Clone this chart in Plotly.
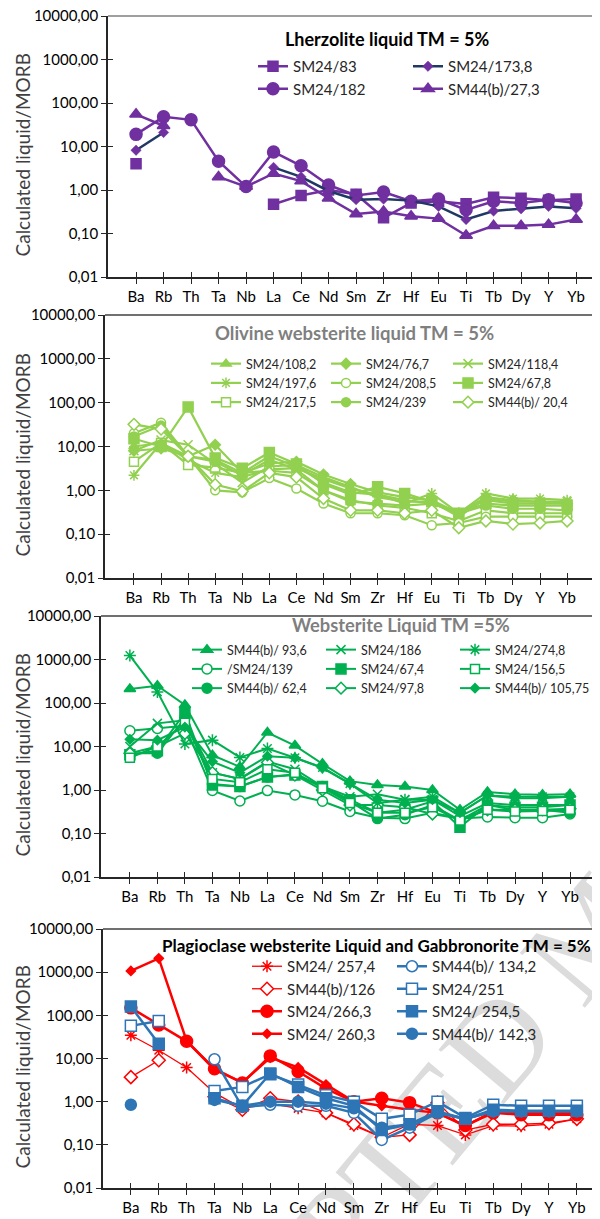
import plotly.graph_objects as go

# ---------------- DATA ----------------
elements = ["Ba", "Rb", "Th", "Ta", "Nb", "La", "Ce", "Nd", "Sm", "Zr", "Hf", "Eu", "Ti", "Tb", "Dy", "Y", "Yb"]
y_tick_vals = [0.01, 0.1, 1, 10, 100, 1000, 10000]
y_tick_text = ["0,01", "0,10", "1,00", "10,00", "100,00", "1000,00", "10000,00"]
y_title = "Calculated liquid/MORB"
watermark = "ACCEPTED MANUSCRIPT"

# Panel 1 - Lherzolite liquid
lherz_title = "Lherzolite liquid TM = 5%"
lherz_sm24_83 = [4.0, None, None, None, None, 0.47, 0.75, 1.0, 0.8, 0.23, 0.5, 0.55, 0.48, 0.68, 0.65, 0.58, 0.62]
lherz_sm24_173_8 = [8.2, 21, None, None, None, 3.3, 2.0, 0.95, 0.6, 0.62, 0.57, 0.42, 0.21, 0.33, 0.37, 0.42, 0.38]
lherz_sm24_182 = [19, 48, 41, 4.6, 1.2, 7.5, 3.6, 1.3, 0.75, 0.9, 0.55, 0.62, 0.35, 0.55, 0.5, 0.6, 0.5]
lherz_sm44b_27_3 = [55, 30, None, 2.0, 1.2, 2.4, 1.6, 0.65, 0.28, 0.32, 0.25, 0.22, 0.09, 0.15, 0.15, 0.16, 0.21]

# Panel 2 - Olivine websterite liquid
ol_title = "Olivine websterite liquid TM = 5%"
ol_sm24_108_2 = [10, 12, 6, 5, 2.5, 6, 3.5, 1.5, 0.9, 0.8, 0.6, 0.5, 0.3, 0.6, 0.5, 0.5, 0.5]
ol_sm24_76_7 = [8, 9, 6, 11, 2.5, 4.1, 4.5, 2.3, 1.4, 0.9, 0.7, 0.6, 0.3, 0.7, 0.6, 0.55, 0.5]
ol_sm24_118_4 = [8, 14, 11, 4, 1.5, 3.5, 3.8, 2.0, 1.2, 0.7, 0.55, 0.55, 0.25, 0.65, 0.55, 0.55, 0.55]
ol_sm24_197_6 = [2.2, 12, 5, 2.5, 2.0, 3.0, 3.2, 1.8, 1.1, 0.8, 0.5, 0.85, 0.3, 0.85, 0.65, 0.65, 0.6]
ol_sm24_208_5 = [20, 35, 6, 1.0, 0.9, 1.9, 1.1, 0.5, 0.3, 0.3, 0.27, 0.16, 0.18, 0.25, 0.25, 0.25, 0.25]
ol_sm24_67_8 = [15, 10, 80, 5.5, 3.2, 7.3, 4.0, 1.4, 0.8, 1.2, 0.85, 0.55, 0.3, 0.5, 0.45, 0.45, 0.45]
ol_sm24_217_5 = [4.5, 12, 3.8, 3.3, 2.5, 2.8, 2.5, 1.0, 0.6, 0.45, 0.4, 0.3, 0.2, 0.35, 0.3, 0.3, 0.3]
ol_sm24_239 = [17, 30, 6, 4.5, 2.2, 5.0, 3.0, 1.0, 0.55, 0.5, 0.45, 0.5, 0.3, 0.45, 0.38, 0.38, 0.35]
ol_sm44b_20_4 = [32, 25, 6, 1.35, 0.95, 2.5, 2.0, 0.65, 0.35, 0.35, 0.3, 0.35, 0.14, 0.2, 0.17, 0.18, 0.2]

# Panel 3 - Websterite liquid
web_title = "Websterite Liquid TM =5%"
web_sm44b_93_6 = [210, 250, 90, 6.3, 3.4, 21, 10.5, 4.0, 1.6, 1.3, 1.2, 1.0, 0.35, 0.9, 0.8, 0.78, 0.8]
web_sm24_186 = [10, 34, 40, 2.5, 1.8, 4.5, 3.0, 1.2, 0.7, 0.8, 0.6, 0.6, 0.25, 0.5, 0.45, 0.45, 0.45]
web_sm24_274_8 = [1230, 180, 11.4, 14, 5.6, 9, 5.5, 3.3, 1.4, 0.5, 0.6, 0.7, 0.3, 0.75, 0.7, 0.7, 0.7]
web_sm24_139 = [23, 26, 30, 0.98, 0.56, 0.97, 0.77, 0.55, 0.32, 0.23, 0.22, 0.3, 0.22, 0.24, 0.23, 0.23, 0.28]
web_sm24_67_4 = [6.5, 8, 60, 1.3, 1.2, 2.0, 2.2, 1.2, 0.6, 0.3, 0.35, 0.55, 0.14, 0.45, 0.4, 0.4, 0.45]
web_sm24_156_5 = [5.5, 10, 35, 1.8, 1.5, 3.0, 2.5, 1.1, 0.5, 0.3, 0.3, 0.4, 0.2, 0.35, 0.32, 0.33, 0.35]
web_sm44b_62_4 = [7, 7, 45, 1.37, 1.2, 2.0, 2.3, 1.2, 0.55, 0.22, 0.27, 0.45, 0.2, 0.45, 0.35, 0.35, 0.3]
web_sm24_97_8 = [7, 10, 20, 2.5, 1.8, 4.3, 2.2, 1.0, 0.45, 0.45, 0.4, 0.28, 0.22, 0.35, 0.35, 0.35, 0.37]
web_sm44b_105_75 = [14.6, 14, 28, 4.5, 2.5, 6.0, 5.5, 3.2, 1.4, 0.6, 0.5, 0.6, 0.3, 0.75, 0.65, 0.65, 0.7]

# Panel 4 - Plagioclase websterite liquid and Gabbronorite
pl_title = "Plagioclase websterite Liquid and Gabbronorite TM = 5%"
pl_sm24_257_4 = [34.6, 15.5, 6.2, 1.6, 0.7, 0.9, 0.7, 0.55, 0.28, 0.15, 0.3, 0.28, 0.17, 0.28, 0.27, 0.3, 0.4]
pl_sm44b_126 = [3.7, 9.1, None, 1.3, 0.65, 1.2, 1.0, 0.55, 0.3, 0.15, 0.17, 0.95, 0.22, 0.3, 0.3, 0.32, 0.4]
pl_sm24_266_3 = [149, 60, 25, 5.8, 2.7, 11.5, 5.0, 2.0, 1.0, 1.2, 0.95, 0.55, 0.28, 0.55, 0.5, 0.5, 0.5]
pl_sm24_260_3 = [1070, 2090, 25.6, 5.5, 2.8, 10.5, 6.2, 2.5, 1.0, 0.8, 0.65, 0.55, 0.27, 0.6, 0.55, 0.55, 0.55]
pl_sm44b_134_2 = [None, None, None, 9.6, 0.75, 0.85, 0.8, 0.8, 0.55, 0.13, 0.25, 0.55, 0.4, 0.6, 0.6, 0.6, 0.6]
pl_sm24_251 = [57, 74, None, 1.77, 2.2, 4.3, 2.5, 1.4, 1.0, 0.4, 0.5, 1.0, 0.42, 0.85, 0.8, 0.8, 0.8]
pl_sm24_254_5 = [160, 22, None, 1.2, 0.8, 4.5, 2.2, 1.2, 0.8, 0.22, 0.3, 0.6, 0.4, 0.65, 0.62, 0.62, 0.62]
pl_sm44b_142_3 = [0.85, None, None, 1.1, 0.8, 1.0, 1.0, 0.9, 0.7, 0.25, 0.3, 0.55, 0.4, 0.6, 0.6, 0.6, 0.6]

# ---------------- STYLE / LAYOUT ----------------
W, H = 600, 1219
PAGE_OFF = 8  # the page body margin shifts the figure by this many pixels
FONT = "Lato, Carlito, 'Open Sans', sans-serif"
PURPLE = "#7030A0"
NAVY = "#1F3864"
LGREEN = "#92D050"
GREEN = "#00B050"
RED = "#FF0000"
BLUE = "#2E75B6"


def fx(px):
    return (px - PAGE_OFF) / W


def fy(py):
    return 1 - (py - PAGE_OFF) / H


# panel geometry in (page) pixels
panels = [
    dict(top=16, bottom=277, left=108, right=600, xr=[-1.02, 16.87], frame_right=False, tcol="#000000",
         title=lherz_title, tx=387, ty=39, tsize=18),
    dict(top=315, bottom=578, left=105, right=595, xr=[-1.07, 17.03], frame_right=True, tcol="#7F7F7F",
         title=ol_title, tx=354, ty=333, tsize=18.5),
    dict(top=616, bottom=877, left=101, right=600, xr=[-1.05, 17.09], frame_right=False, tcol="#7F7F7F",
         title=web_title, tx=401, ty=625, tsize=18.3),
    dict(top=929, bottom=1188, left=103, right=600, xr=[-1.0, 16.83], frame_right=False, tcol="#000000",
         title=pl_title, tx=376, ty=945, tsize=17),
]


def mk(sym, size, color, fill=None, lw=1.5):
    return dict(symbol=sym, size=size, color=fill if fill else color,
                line=dict(color=color, width=lw))


# (panel, name, values, line color, line width, marker, legend id)
series = [
    (1, "SM24/83", lherz_sm24_83, PURPLE, 2.5, mk("square", 10, PURPLE), "legend"),
    (1, "SM24/182", lherz_sm24_182, PURPLE, 2.5, mk("circle", 12, PURPLE), "legend"),
    (1, "SM24/173,8", lherz_sm24_173_8, NAVY, 2.5, mk("diamond", 8, PURPLE, lw=0.5), "legend2"),
    (1, "SM44(b)/27,3", lherz_sm44b_27_3, PURPLE, 2.5, mk("triangle-up", 11, PURPLE), "legend2"),

    (2, "SM24/108,2", ol_sm24_108_2, LGREEN, 2.2, mk("triangle-up", 9, LGREEN), "legend3"),
    (2, "SM24/197,6", ol_sm24_197_6, LGREEN, 2.2, mk("asterisk-open", 9, LGREEN), "legend3"),
    (2, "SM24/217,5", ol_sm24_217_5, LGREEN, 2.2, mk("square", 9, LGREEN, fill="white"), "legend3"),
    (2, "SM24/76,7", ol_sm24_76_7, LGREEN, 2.2, mk("diamond", 8, LGREEN), "legend4"),
    (2, "SM24/208,5", ol_sm24_208_5, LGREEN, 2.2, mk("circle", 9, LGREEN, fill="white"), "legend4"),
    (2, "SM24/239", ol_sm24_239, LGREEN, 2.2, mk("circle", 9, LGREEN), "legend4"),
    (2, "SM24/118,4", ol_sm24_118_4, LGREEN, 2.2, mk("x-thin-open", 9, LGREEN), "legend5"),
    (2, "SM24/67,8", ol_sm24_67_8, LGREEN, 2.2, mk("square", 10, LGREEN), "legend5"),
    (2, "SM44(b)/ 20,4", ol_sm44b_20_4, LGREEN, 2.2, mk("diamond", 9, LGREEN, fill="white"), "legend5"),

    (3, "SM44(b)/ 93,6", web_sm44b_93_6, GREEN, 2, mk("triangle-up", 10, GREEN), "legend6"),
    (3, "/SM24/139", web_sm24_139, GREEN, 2, mk("circle", 10, GREEN, fill="white"), "legend6"),
    (3, "SM44(b)/ 62,4", web_sm44b_62_4, GREEN, 2, mk("circle", 10, GREEN), "legend6"),
    (3, "SM24/186", web_sm24_186, GREEN, 2, mk("x-thin-open", 9, GREEN), "legend7"),
    (3, "SM24/67,4", web_sm24_67_4, GREEN, 2, mk("square", 10, GREEN), "legend7"),
    (3, "SM24/97,8", web_sm24_97_8, GREEN, 2, mk("diamond", 9, GREEN, fill="white"), "legend7"),
    (3, "SM24/274,8", web_sm24_274_8, GREEN, 2, mk("asterisk-open", 10, GREEN), "legend8"),
    (3, "SM24/156,5", web_sm24_156_5, GREEN, 2, mk("square", 9, GREEN, fill="white"), "legend8"),
    (3, "SM44(b)/ 105,75", web_sm44b_105_75, GREEN, 2, mk("diamond", 7, GREEN), "legend8"),

    (4, "SM24/ 257,4", pl_sm24_257_4, RED, 1.3, mk("asterisk-open", 10, RED), "legend9"),
    (4, "SM44(b)/126", pl_sm44b_126, RED, 1.3, mk("diamond", 10, RED, fill="white"), "legend9"),
    (4, "SM24/266,3", pl_sm24_266_3, RED, 2.5, mk("circle", 12, RED), "legend9"),
    (4, "SM24/ 260,3", pl_sm24_260_3, RED, 2.5, mk("diamond", 7, RED), "legend9"),
    (4, "SM44(b)/ 134,2", pl_sm44b_134_2, BLUE, 2.5, mk("circle", 11, BLUE, fill="white"), "legend10"),
    (4, "SM24/251", pl_sm24_251, BLUE, 2.5, mk("square", 11, BLUE, fill="white"), "legend10"),
    (4, "SM24/ 254,5", pl_sm24_254_5, BLUE, 2.5, mk("square", 11, BLUE), "legend10"),
    (4, "SM44(b)/ 142,3", pl_sm44b_142_3, BLUE, 2.5, mk("circle", 11, BLUE), "legend10"),
]

# legend column positions (page px: left, top) and font sizes
legend_pos = {
    "legend": (253, 50, 15), "legend2": (408, 50, 15),
    "legend3": (206, 349, 12.5), "legend4": (326, 349, 12.5), "legend5": (448, 349, 12.5),
    "legend6": (187, 635, 12.5), "legend7": (321, 635, 12.5), "legend8": (455, 635, 12.5),
    "legend9": (247, 950, 15), "legend10": (392, 950, 15),
}

fig = go.Figure()


def ax(i):
    return "" if i == 1 else str(i)


for p, name, vals, lc, lw, marker, leg in series:
    fig.add_trace(go.Scatter(
        x=elements, y=vals, name=name, mode="lines+markers",
        line=dict(color=lc, width=lw), marker=marker,
        connectgaps=False, legend=leg,
        xaxis="x" + ax(p), yaxis="y" + ax(p), cliponaxis=False,
    ))

# empty traces so the overlay (crossing tick) axes are drawn
for i in range(1, 5):
    fig.add_trace(go.Scatter(x=[], y=[], xaxis="x" + ax(i + 4), yaxis="y" + ax(i + 4),
                             showlegend=False, hoverinfo="skip"))

layout = dict(
    width=W, height=H, margin=dict(l=0, r=0, t=0, b=0, autoexpand=False),
    paper_bgcolor="white", plot_bgcolor="rgba(0,0,0,0)",
    font=dict(family=FONT, color="#000000"),
    showlegend=True,
)

AXC = "#262626"
annotations = []
shapes = []

# faint watermark drawn below the data
wm_cx, wm_cy = 581, 922
shapes.append(dict(type="rect", xref="paper", yref="paper", layer="below",
                   x0=fx(wm_cx - 60), x1=fx(wm_cx + 60), y0=fy(wm_cy + 40), y1=fy(wm_cy - 40),
                   line=dict(width=0), fillcolor="rgba(0,0,0,0)",
                   label=dict(text=watermark, textangle=-50, textposition="middle center",
                              font=dict(size=130, color="#DCDCDC", family="Liberation Serif, serif"))))

for i, pn in enumerate(panels, start=1):
    xd = [fx(pn["left"]), fx(pn["right"])]
    yd = [fy(pn["bottom"]), fy(pn["top"])]
    layout["xaxis" + ax(i)] = dict(
        domain=xd, anchor="y" + ax(i), type="category", categoryorder="array", categoryarray=elements,
        range=pn["xr"], showline=True, linecolor=AXC, linewidth=1.6, ticks="outside", ticklen=5,
        tickwidth=1.4, tickcolor=AXC, showgrid=False, zeroline=False, ticklabeloverflow="allow",
        tickfont=dict(size=15, color="#000000", family=FONT), fixedrange=True)
    layout["yaxis" + ax(i)] = dict(
        domain=yd, anchor="x" + ax(i), type="log", range=[-2, 4], tickmode="array",
        tickvals=y_tick_vals, ticktext=y_tick_text, showline=True, linecolor=AXC, linewidth=1.6,
        ticks="outside", ticklen=5, tickwidth=1.4, tickcolor=AXC, showgrid=False, zeroline=False,
        mirror=pn["frame_right"], ticklabeloverflow="allow",
        tickfont=dict(size=15, color="#000000", family=FONT), fixedrange=True)
    # overlay axes for the inside half of the crossing tick marks
    layout["xaxis" + ax(i + 4)] = dict(
        domain=xd, anchor="y" + ax(i), overlaying="x" + ax(i), type="linear", range=pn["xr"],
        tickmode="array", tickvals=list(range(len(elements))), ticks="inside", ticklen=5,
        tickwidth=1.4, tickcolor=AXC, showticklabels=False, showline=False, showgrid=False,
        zeroline=False, fixedrange=True)
    layout["yaxis" + ax(i + 4)] = dict(
        domain=yd, anchor="x" + ax(i), overlaying="y" + ax(i), type="log", range=[-2, 4],
        tickmode="array", tickvals=y_tick_vals, ticks="inside", ticklen=5, tickwidth=1.4,
        tickcolor=AXC, showticklabels=False, showline=False, showgrid=False, zeroline=False,
        fixedrange=True)
    # top frame line
    shapes.append(dict(type="line", xref="x" + ax(i) + " domain", yref="y" + ax(i) + " domain",
                       x0=0, x1=1, y0=1, y1=1,
                       line=dict(color="#7F7F7F" if i == 1 else "#404040", width=1.3)))
    # panel title
    annotations.append(dict(text=pn["title"], x=fx(pn["tx"]), y=fy(pn["ty"]), xref="paper", yref="paper",
                            xanchor="center", yanchor="middle", showarrow=False,
                            font=dict(size=pn["tsize"], color=pn["tcol"], family=FONT, weight="bold")))
    # y axis title
    annotations.append(dict(text=y_title, x=fx(22), y=fy((pn["top"] + pn["bottom"]) / 2 + 8),
                            xref="paper", yref="paper", xanchor="center", yanchor="middle",
                            textangle=-90, showarrow=False,
                            font=dict(size=19, color="#404040", family=FONT)))

for lid, (lx, ly, fs) in legend_pos.items():
    layout[lid] = dict(x=fx(lx), y=fy(ly), xanchor="left", yanchor="top", orientation="v",
                       bgcolor="rgba(0,0,0,0)", borderwidth=0, tracegroupgap=0,
                       font=dict(size=fs, color="#262626", family=FONT), itemclick=False)

layout["annotations"] = annotations
layout["shapes"] = shapes
fig.update_layout(**layout)

fig.write_html("out.html")
